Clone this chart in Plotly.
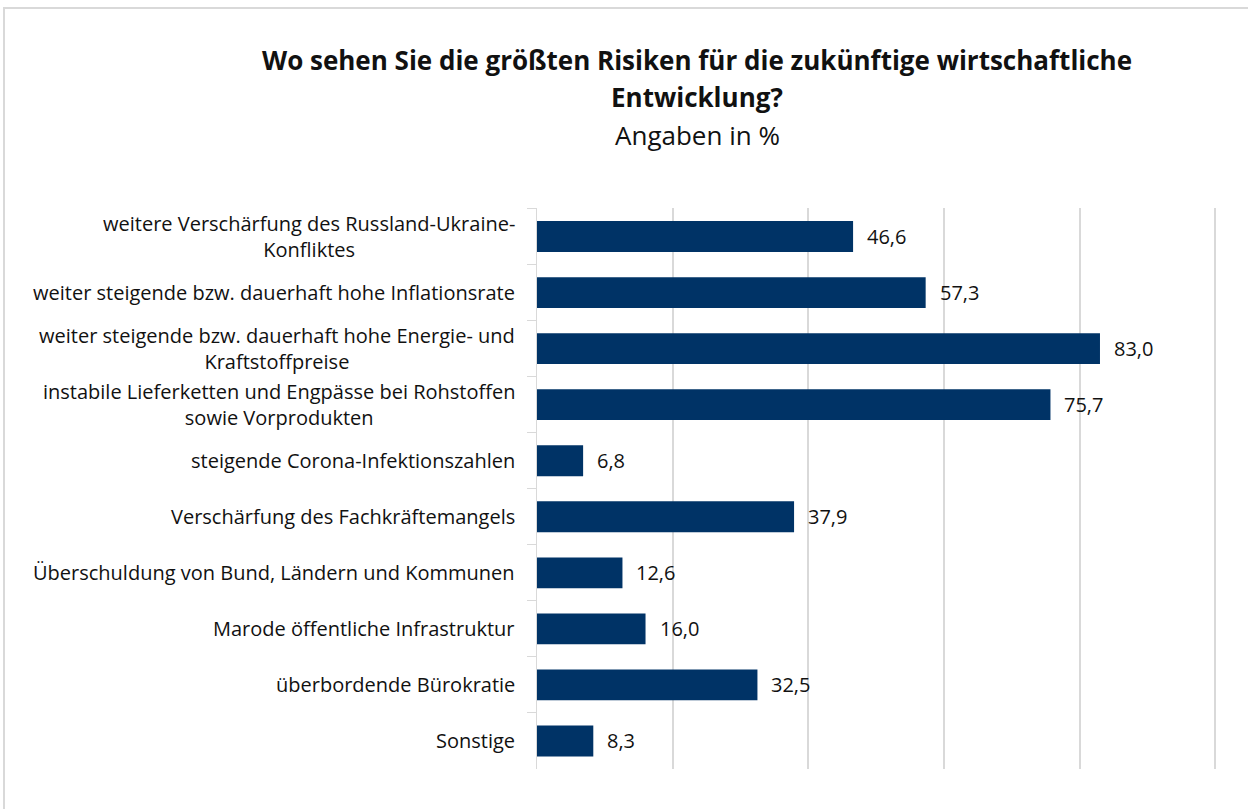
import plotly.graph_objects as go

categories = [
    "weitere Verschärfung des Russland-Ukraine-<br>Konfliktes",
    "weiter steigende bzw. dauerhaft hohe Inflationsrate",
    "weiter steigende bzw. dauerhaft hohe Energie- und<br>Kraftstoffpreise",
    "instabile Lieferketten und Engpässe bei Rohstoffen<br>sowie Vorprodukten",
    "steigende Corona-Infektionszahlen",
    "Verschärfung des Fachkräftemangels",
    "Überschuldung von Bund, Ländern und Kommunen",
    "Marode öffentliche Infrastruktur",
    "überbordende Bürokratie",
    "Sonstige",
]
values = [46.6, 57.3, 83.0, 75.7, 6.8, 37.9, 12.6, 16.0, 32.5, 8.3]

title_lines = ["Wo sehen Sie die größten Risiken für die zukünftige wirtschaftliche",
               "Entwicklung?"]
subtitle = "Angaben in %"

W, H = 1248, 809
L, R, T, B = 537, 30, 208, 40
pw, ph = W - L - R, H - T - B


def py(pix):
    # pixel row -> paper y
    return 1 + (T - pix) / ph


def px(pix):
    return (pix - L) / pw


fig = go.Figure()
fig.add_trace(go.Bar(
    x=values,
    y=categories,
    orientation='h',
    marker=dict(color='#003366', line=dict(width=0)),
    hoverinfo='x+y',
))

# value labels right of the bars
labels = [dict(
    x=v, y=c, xref='x', yref='y',
    text=f"{v:.1f}".replace('.', ','),
    showarrow=False, xanchor='left', yanchor='middle', xshift=12,
    font=dict(size=20, color='#111111'),
) for v, c in zip(values, categories)]

# category labels, centred block, right edge next to the axis
cat_labels = [dict(
    x=0, y=c, xref='paper', yref='y', text=c,
    showarrow=False, xanchor='right', yanchor='middle', align='center',
    xshift=-20, font=dict(size=20, color='#111111'),
) for c in categories]

titles = [
    dict(text=f"<b>{title_lines[0]}</b>", y=py(60)),
    dict(text=f"<b>{title_lines[1]}</b>", y=py(97)),
    dict(text=subtitle, y=py(135)),
]
title_annos = [dict(
    text=t['text'], xref='paper', yref='paper', x=px(697), y=t['y'],
    xanchor='center', yanchor='middle', showarrow=False,
    font=dict(size=26, color='#111111'),
) for t in titles]

fig.update_layout(
    width=W, height=H,
    margin=dict(l=L, r=R, t=T, b=B),
    paper_bgcolor='white',
    plot_bgcolor='white',
    bargap=0.45,
    showlegend=False,
    font=dict(family='Open Sans', color='#111111'),
    xaxis=dict(
        range=[0, 100.4], tickvals=[20, 40, 60, 80, 100], showticklabels=False,
        showgrid=True, gridcolor='#d9d9d9', gridwidth=2,
        zeroline=False, showline=False, fixedrange=True,
    ),
    yaxis=dict(
        autorange='reversed', tickson='boundaries',
        ticks='outside', ticklen=9, tickcolor='#d9d9d9', tickwidth=1,
        showline=True, linecolor='#d9d9d9', linewidth=1,
        showgrid=False, showticklabels=False,
    ),
    annotations=labels + cat_labels + title_annos,
    shapes=[dict(
        type='rect', xref='paper', yref='paper',
        x0=px(4), x1=px(W + 10),
        y0=py(H + 10), y1=py(8),
        line=dict(color='#d9d9d9', width=2), layer='below',
    )],
)

fig.write_html("out.html", config={'displayModeBar': False},
               post_script="document.body.style.margin='0';")
